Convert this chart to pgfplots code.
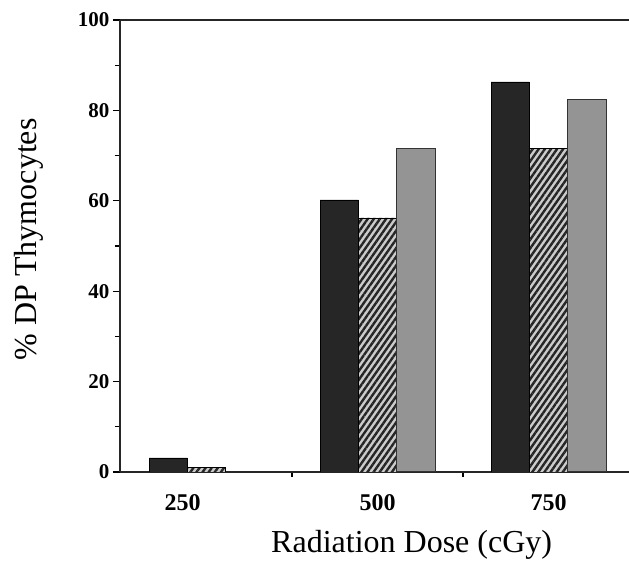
\documentclass[border=0pt]{standalone}
\usepackage{pgfplots}
\pgfplotsset{compat=1.18}
\usepackage{fontspec}
\setmainfont{Liberation Serif}
\usetikzlibrary{patterns,patterns.meta}

\begin{document}
\begin{tikzpicture}
\begin{axis}[
  name=ax,
  scale only axis,
  width=509pt, height=452pt,
  xmin=-0.506, xmax=2.47,
  ymin=0, ymax=100,
  axis x line=box,
  axis y line*=left,
  xtick pos=bottom, ytick pos=left,
  tick align=outside,
  axis line style={line width=1.2pt, black!85},
  xtick={-0.14,1,2},
  xticklabels={250,500,750},
  minor xtick={0.5,1.5},
  every tick/.append style={line width=1.1pt, black},
  every major x tick/.append style={draw=none},
  every minor x tick/.append style={line width=1.4pt, black},
  ytick={0,20,40,60,80,100},
  minor ytick={10,30,50,70,90},
  major tick length=7pt, minor tick length=5pt,
  /pgf/number format/assume math mode=true,
  xticklabel style={font=\bfseries\fontsize{24}{24}\selectfont, yshift=-12pt},
  yticklabel style={font=\bfseries\fontsize{21}{21}\selectfont},
  xlabel={Radiation Dose (cGy)},
  ylabel={\% DP Thymocytes},
  label style={font=\fontsize{32}{32}\selectfont},
  xlabel style={at={(axis description cs:0.573,-0.179)}, anchor=base},
  ylabel style={at={(axis description cs:-0.165,0.515)}, anchor=base},
  ybar, bar width=0.224, bar shift=0pt,
]
% black bars
\addplot[draw=black, line width=0.6pt, fill=black!85]
  coordinates {(-0.224,3.1) (0.776,60.2) (1.776,86.3)};
% hatched bars
\addplot[draw=black, line width=0.8pt, fill=black!20,
  postaction={pattern={Lines[angle=55,distance=5pt,line width=2.4pt]}, pattern color=black!85}]
  coordinates {(0,1.0) (1,56.2) (2,71.6)};
% gray stippled bars
\addplot[draw=black!80, line width=1pt, fill=black!42]
  coordinates {(1.224,71.5) (2.224,82.3)};
\end{axis}
\pgfresetboundingbox
\path[use as bounding box] ([xshift=-120pt,yshift=-89pt]ax.south west) rectangle ([yshift=20pt]ax.north east);
\end{tikzpicture}
\end{document}
